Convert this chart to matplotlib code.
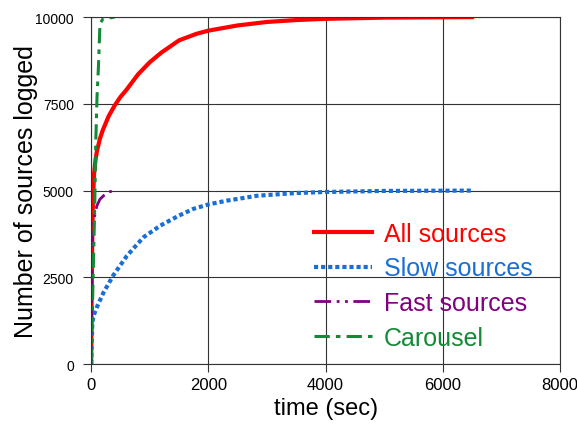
import numpy as np
import matplotlib.pyplot as plt

all_t = [0, 5, 10, 20, 30, 50, 75, 100, 150, 200, 300, 400, 500, 600, 800, 1000,
         1200, 1500, 1800, 2000, 2500, 3000, 3500, 4000, 5000, 6500]
all_y = [0, 1500, 2500, 3800, 4700, 5500, 5900, 6150, 6500, 6750, 7150, 7450, 7700, 7900, 8350, 8700,
         8980, 9330, 9520, 9610, 9760, 9860, 9915, 9950, 9985, 10000]

slow_t = [0, 20, 40, 100, 210, 375, 610, 890, 1180, 1500, 1740, 2000, 2315, 2830, 3500, 4000, 5000, 6500]
slow_y = [0, 1200, 1390, 1650, 2060, 2550, 3120, 3650, 3990, 4280, 4470, 4600, 4710, 4850, 4930, 4960, 4990, 5000]

fast_t = [0, 10, 22, 50, 97, 150, 210, 300, 400]
fast_y = [0, 2000, 3800, 4200, 4560, 4750, 4850, 4960, 5000]

car_t = [0, 20, 40, 60, 80, 100, 125, 150, 200, 400]
car_y = [0, 1500, 3000, 4500, 6500, 7700, 8600, 9800, 9950, 10000]

plt.rcParams['font.family'] = ['Liberation Sans', 'DejaVu Sans']

fig = plt.figure(figsize=(5.77, 4.31), dpi=100)
ax = fig.add_axes([0.158, 0.153, 0.8125, 0.805])

ax.plot(all_t, all_y, color='#ff0000', lw=3, label='All sources')
ax.plot(slow_t, slow_y, color='#1a6fd4', lw=3, ls=(0, (1, 0.7)), label='Slow sources')
ax.plot(fast_t, fast_y, color='#800080', lw=2, ls=(0, (6, 2, 1, 2, 1, 2)), label='Fast sources')
ax.plot(car_t, car_y, color='#138a35', lw=2.2, ls=(0, (5, 2, 1.5, 2)), label='Carousel')

ax.set_xlim(0, 8000)
ax.set_ylim(0, 10000)
ax.set_xticks([0, 2000, 4000, 6000, 8000])
ax.set_yticks([0, 2500, 5000, 7500, 10000])
ax.tick_params(labelsize=12, length=5.5, color='#333333')
ax.tick_params(axis='y', labelsize=10, pad=7)
ax.grid(True, color='#333333', lw=0.8)
for s in ax.spines.values():
    s.set_color('#333333')
    s.set_linewidth(0.8)

ax.set_xlabel('time (sec)', fontsize=17)
ax.set_ylabel('Number of sources logged', fontsize=18)
ax.yaxis.set_label_coords(-0.113, 0.5)

leg = ax.legend(loc='lower right', bbox_to_anchor=(0.99, -0.024), frameon=False,
                fontsize=18, handlelength=2.3, labelspacing=0.43, handletextpad=0.5)
for txt, line in zip(leg.get_texts(), leg.get_lines()):
    txt.set_color(line.get_color())

fig.savefig('out.png')
